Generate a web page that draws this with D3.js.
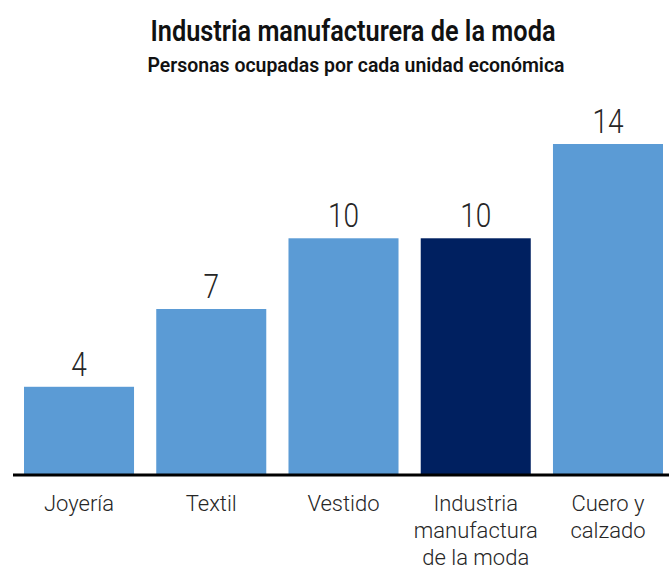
<!DOCTYPE html>
<html lang="es">
<head>
    <meta charset="UTF-8"/>
    <title>Industria manufacturera de la moda</title>
    <script src="https://cdn.jsdelivr.net/npm/d3@7"></script>
    <style>
        html, body {
            margin: 0;
            background: white;
        }
        text {
            font-family: Roboto, "Open Sans", sans-serif;
            fill: #262626;
        }
    </style>
</head>
<body>
<div id="chart"></div>
<script>
    // data
    const categories = ["Joyería", "Textil", "Vestido", "Industria manufactura de la moda", "Cuero y calzado"]
    const labelLines = [["Joyería"], ["Textil"], ["Vestido"], ["Industria", "manufactura", "de la moda"], ["Cuero y", "calzado"]]
    const values = [3.7, 7.0, 10.0, 10.0, 14.0]
    const highlighted = ["Industria manufactura de la moda"]

    const width = 669
    const height = 574
    const baseline = 474

    const svg = d3.select("#chart")
        .append("svg")
        .attr("width", width)
        .attr("height", height)

    const x = d3.scaleBand()
        .domain(categories)
        .range([24, 663])
        .paddingInner(0.168)
        .paddingOuter(0)

    const y = d3.scaleLinear()
        .domain([0, 14])
        .range([baseline, 144])

    // titles
    svg.append("text")
        .attr("x", 353)
        .attr("y", 41)
        .attr("text-anchor", "middle")
        .attr("font-size", 29)
        .attr("font-weight", 600)
        .attr("textLength", 405)
        .attr("lengthAdjust", "spacingAndGlyphs")
        .style("fill", "#111")
        .text("Industria manufacturera de la moda")

    svg.append("text")
        .attr("x", 356)
        .attr("y", 72)
        .attr("text-anchor", "middle")
        .attr("font-size", 21)
        .attr("font-weight", 600)
        .attr("textLength", 417)
        .attr("lengthAdjust", "spacingAndGlyphs")
        .style("fill", "#111")
        .text("Personas ocupadas por cada unidad económica")

    // bars
    svg.selectAll("rect.bar")
        .data(categories)
        .join("rect")
        .attr("class", "bar")
        .attr("x", d => x(d))
        .attr("width", x.bandwidth())
        .attr("y", (d, i) => y(values[i]))
        .attr("height", (d, i) => baseline - y(values[i]))
        .attr("fill", d => highlighted.includes(d) ? "#002060" : "#5B9BD5")

    // value labels
    svg.selectAll("text.value")
        .data(categories)
        .join("text")
        .attr("class", "value")
        .attr("transform", (d, i) => `translate(${x(d) + x.bandwidth() / 2},${y(values[i]) - 11}) scale(0.85,1)`)
        .attr("text-anchor", "middle")
        .attr("font-size", 33)
        .attr("font-weight", 300)
        .text((d, i) => d3.format(".0f")(values[i]))

    // axis line
    const xAxis = d3.axisBottom(x).tickSize(0).tickFormat("")
    const axisG = svg.append("g")
        .attr("transform", `translate(0,${baseline + 1})`)
        .call(xAxis)
    axisG.select(".domain")
        .attr("d", `M13,0H${width}`)
        .attr("stroke", "#000")
        .attr("stroke-width", 3)

    // category labels
    const labels = svg.selectAll("text.cat")
        .data(categories)
        .join("text")
        .attr("class", "cat")
        .attr("text-anchor", "middle")
        .attr("font-size", 22)
        .attr("font-weight", 300)

    labels.each(function (d, i) {
        d3.select(this)
            .selectAll("tspan")
            .data(labelLines[i])
            .join("tspan")
            .attr("x", x(d) + x.bandwidth() / 2)
            .attr("y", (line, j) => 511 + j * 27)
            .text(line => line)
    })
</script>
</body>
</html>
